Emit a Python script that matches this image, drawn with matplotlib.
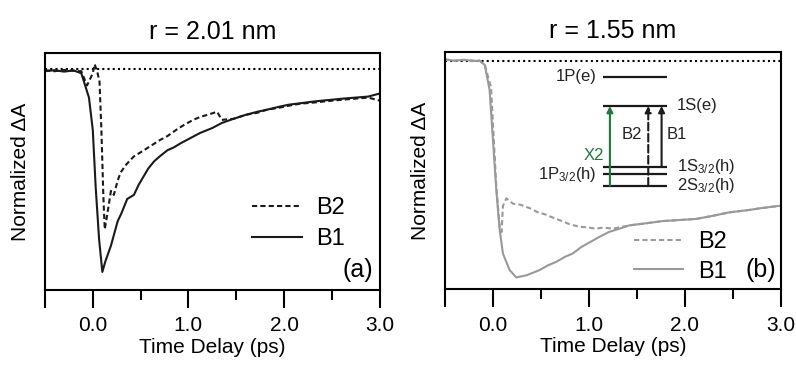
import matplotlib
matplotlib.use("Agg")
import matplotlib.pyplot as plt
from matplotlib.ticker import MultipleLocator

plt.rcParams['font.family'] = ['Liberation Sans', 'DejaVu Sans']
plt.rcParams['mathtext.default'] = 'regular'

# ---- panel (a): r = 2.01 nm ----
t_a_b1 = [-0.5, -0.4, -0.3, -0.2, -0.12, -0.08, -0.04, 0.0, 0.03, 0.066, 0.10, 0.13,
          0.19, 0.26, 0.30, 0.36, 0.43, 0.48, 0.53, 0.58, 0.64, 0.70, 0.78, 0.85,
          0.92, 1.0, 1.12, 1.25, 1.35, 1.47, 1.6, 1.72, 1.82, 1.95, 2.05, 2.17,
          2.3, 2.4, 2.51, 2.62, 2.75, 2.88, 3.0]
a_b1 = [-0.01, -0.005, -0.012, -0.006, -0.02, -0.08, -0.14, -0.30, -0.58, -0.84, -1.0, -0.95,
        -0.87, -0.75, -0.71, -0.64, -0.62, -0.57, -0.53, -0.49, -0.455, -0.43, -0.40, -0.385,
        -0.365, -0.345, -0.315, -0.29, -0.265, -0.245, -0.225, -0.21, -0.20, -0.185, -0.175, -0.168,
        -0.16, -0.155, -0.15, -0.145, -0.14, -0.135, -0.12]

t_a_b2 = [-0.5, -0.4, -0.3, -0.2, -0.12, -0.06, -0.03, 0.0, 0.02, 0.05, 0.07, 0.09,
          0.11, 0.125, 0.15, 0.19, 0.22, 0.26, 0.29, 0.35, 0.43, 0.5, 0.6, 0.7,
          0.78, 0.87, 0.95, 1.05, 1.125, 1.2, 1.3, 1.35, 1.47, 1.6, 1.72, 1.82,
          1.95, 2.05, 2.17, 2.3, 2.4, 2.51, 2.62, 2.75, 2.88, 3.0]
a_b2 = [-0.005, -0.01, -0.004, -0.008, -0.01, -0.08, -0.05, -0.02, 0.025, -0.02, -0.06, -0.3,
        -0.62, -0.79, -0.72, -0.60, -0.62, -0.55, -0.51, -0.47, -0.43, -0.41, -0.38, -0.35,
        -0.33, -0.30, -0.276, -0.25, -0.235, -0.225, -0.21, -0.25, -0.245, -0.225, -0.215, -0.20,
        -0.19, -0.18, -0.17, -0.165, -0.16, -0.155, -0.15, -0.145, -0.14, -0.155]

# ---- panel (b): r = 1.55 nm ----
t_b_b1 = [-0.5, -0.4, -0.3, -0.2, -0.14, -0.085, -0.035, 0.0, 0.035, 0.07, 0.104, 0.174,
          0.243, 0.35, 0.486, 0.57, 0.66, 0.75, 0.83, 0.92, 1.0, 1.1, 1.21, 1.32,
          1.42, 1.6, 1.77, 1.95, 2.12, 2.3, 2.46, 2.65, 2.8, 2.98]
b_b1 = [0.005, 0.0, 0.004, -0.002, 0.0, -0.02, -0.135, -0.366, -0.597, -0.78, -0.89, -0.966,
        -1.0, -0.99, -0.966, -0.945, -0.928, -0.905, -0.89, -0.86, -0.84, -0.815, -0.79, -0.775,
        -0.76, -0.75, -0.74, -0.735, -0.73, -0.715, -0.70, -0.69, -0.68, -0.67]

t_b_b2 = [-0.5, -0.4, -0.3, -0.2, -0.14, -0.085, -0.035, -0.02, 0.0, 0.035, 0.07, 0.09,
          0.104, 0.14, 0.21, 0.29, 0.38, 0.47, 0.55, 0.63, 0.72, 0.8, 0.9, 1.0,
          1.07, 1.15, 1.25, 1.42, 1.6, 1.77, 1.95, 2.12, 2.3, 2.46, 2.65, 2.8, 2.98]
b_b2 = [0.006, 0.0, 0.003, 0.0, 0.0, -0.02, -0.10, -0.12, -0.29, -0.58, -0.77, -0.79,
        -0.67, -0.635, -0.66, -0.665, -0.68, -0.70, -0.71, -0.725, -0.74, -0.755, -0.766, -0.77,
        -0.775, -0.77, -0.775, -0.76, -0.75, -0.74, -0.735, -0.73, -0.715, -0.70, -0.69, -0.68, -0.67]

# energy level diagram (inset of panel b)
level_names = ['1P(e)', '1S(e)', '1S$_{3/2}$(h)', '1P$_{3/2}$(h)', '2S$_{3/2}$(h)']
level_energy = [1.0, 0.731, 0.174, 0.105, 0.0]
label_side = ['left', 'right', 'right', 'left', 'right']
arrow_names = ['X2', 'B2', 'B1']
arrow_x = [0.106, 0.71, 0.92]
arrow_from = [0.0, 0.0, 0.174]
arrow_to = [0.731, 0.731, 0.731]

DARK = '#1a1a1a'
GRAY = '#999999'
GREEN = '#1d7a3c'

fig = plt.figure(figsize=(7.96, 3.66), dpi=100)
ax_a = fig.add_axes([0.0565, 0.2077, 0.4205, 0.647])
ax_b = fig.add_axes([0.559, 0.210, 0.422, 0.648])


def style_axes(ax, title, ylim):
    ax.set_xlim(-0.5, 3.0)
    ax.set_ylim(*ylim)
    ax.axhline(0, color='black', lw=1.5, ls=(0, (1, 1.5)), zorder=1)
    ax.set_title(title, fontsize=18, pad=10)
    ax.set_xlabel('Time Delay (ps)', fontsize=15, labelpad=2)
    ax.set_ylabel('Normalized \u0394A', fontsize=15, labelpad=11)
    ax.set_yticks([])
    ax.set_xticks([-0.5, 0, 1, 2, 3])
    ax.set_xticklabels(['', '0.0', '1.0', '2.0', '3.0'])
    ax.xaxis.set_minor_locator(MultipleLocator(0.5))
    ax.tick_params(axis='x', which='major', direction='out', length=13, width=1.5,
                   labelsize=15, pad=6)
    ax.tick_params(axis='x', which='minor', direction='out', length=7, width=1.5)
    for s in ax.spines.values():
        s.set_linewidth(1.5)


style_axes(ax_a, 'r = 2.01 nm', (-1.089, 0.079))
la1, = ax_a.plot(t_a_b1, a_b1, color=DARK, lw=1.5, label='B1')
la2, = ax_a.plot(t_a_b2, a_b2, color=DARK, lw=1.5, ls=(0, (2.5, 1.5)), label='B2')
ax_a.legend(handles=[la2, la1], loc='lower left', bbox_to_anchor=(0.62, 0.167),
            frameon=False, fontsize=17, handlelength=2.1, handletextpad=0.6,
            labelspacing=0.4, borderpad=0, borderaxespad=0)
ax_a.text(0.979, 0.084, '(a)', transform=ax_a.transAxes, ha='right', va='center', fontsize=18)

style_axes(ax_b, 'r = 1.55 nm', (-1.054, 0.04))
lb1, = ax_b.plot(t_b_b1, b_b1, color=GRAY, lw=1.5, label='B1')
lb2, = ax_b.plot(t_b_b2, b_b2, color=GRAY, lw=1.5, ls=(0, (2.5, 1.5)), label='B2')
ax_b.legend(handles=[lb2, lb1], loc='lower left', bbox_to_anchor=(0.5625, 0.027),
            frameon=False, fontsize=17, handlelength=2.1, handletextpad=0.6,
            labelspacing=0.32, borderpad=0, borderaxespad=0)
ax_b.text(0.985, 0.08, '(b)', transform=ax_b.transAxes, ha='right', va='center', fontsize=18)

# inset energy diagram
ins = ax_b.inset_axes([0.471, 0.436, 0.189, 0.46])
ins.set_xlim(0, 1)
ins.set_ylim(0, 1)
ins.axis('off')
ins.hlines(level_energy, 0, 1, color=DARK, lw=1.6, clip_on=False)
for name, e, side in zip(level_names, level_energy, label_side):
    if side == 'left':
        ins.text(-0.1, e, name, ha='right', va='center', fontsize=12, color='#222222')
    else:
        ins.text(1.16, e, name, ha='left', va='center', fontsize=12, color='#222222')
styles = {'X2': (GREEN, '-'), 'B2': (DARK, '--'), 'B1': (DARK, '-')}
for name, x, y0, y1 in zip(arrow_names, arrow_x, arrow_from, arrow_to):
    c, ls = styles[name]
    ins.annotate('', xy=(x, y1), xytext=(x, y0),
                 arrowprops=dict(arrowstyle='-|>', color=c, lw=1.5, ls=ls,
                                 mutation_scale=9, shrinkA=0, shrinkB=0))
ins.text(0.02, 0.28, 'X2', color=GREEN, ha='right', va='center', fontsize=12)
ins.text(0.62, 0.474, 'B2', color='#222222', ha='right', va='center', fontsize=12)
ins.text(1.0, 0.474, 'B1', color='#222222', ha='left', va='center', fontsize=12)

fig.savefig('out.png', dpi=100)
